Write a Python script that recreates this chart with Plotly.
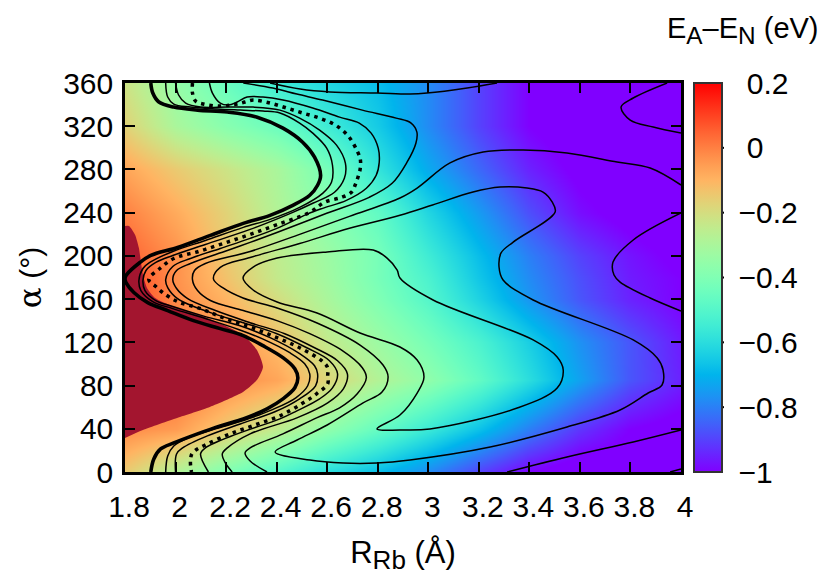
import math
import plotly.graph_objects as go

# ---- heat map values (eV) ----
r_grid = [1.8, 2.0, 2.2, 2.4, 2.6, 2.8, 3.0, 3.2, 3.4, 3.6, 3.8, 4.0]
alpha_grid = [0, 40, 85, 120, 160, 180, 200, 240, 280, 320, 360]
z_0   = [-0.15, -0.28, -0.40, -0.50, -0.60, -0.68, -0.78, -0.90, -1.00, -1.05, -1.05, -1.05]
z_40  = [-0.02, -0.05, -0.15, -0.25, -0.36, -0.46, -0.56, -0.67, -0.80, -0.92, -1.00, -1.03]
z_85  = [0.10, 0.05, -0.02, -0.07, -0.18, -0.28, -0.36, -0.47, -0.60, -0.74, -0.87, -0.95]
z_120 = [0.10, 0.02, -0.03, -0.12, -0.24, -0.33, -0.42, -0.52, -0.64, -0.77, -0.87, -0.96]
z_160 = [0.10, -0.02, -0.10, -0.20, -0.30, -0.40, -0.50, -0.63, -0.76, -0.87, -0.95, -1.00]
z_180 = [0.10, -0.03, -0.13, -0.24, -0.32, -0.42, -0.52, -0.66, -0.78, -0.88, -0.96, -1.00]
z_200 = [0.05, -0.03, -0.15, -0.25, -0.33, -0.42, -0.55, -0.68, -0.80, -0.90, -0.97, -1.02]
z_240 = [0.00, -0.08, -0.17, -0.28, -0.38, -0.47, -0.62, -0.75, -0.88, -0.98, -1.03, -1.05]
z_280 = [-0.07, -0.15, -0.22, -0.30, -0.42, -0.58, -0.72, -0.84, -0.95, -1.02, -1.05, -1.05]
z_320 = [-0.17, -0.30, -0.38, -0.45, -0.55, -0.65, -0.78, -0.90, -1.00, -1.05, -1.05, -1.05]
z_360 = [-0.22, -0.35, -0.45, -0.55, -0.62, -0.68, -0.78, -0.90, -1.00, -1.05, -1.05, -1.05]
z_rows = [z_0, z_40, z_85, z_120, z_160, z_180, z_200, z_240, z_280, z_320, z_360]

# ---- contour lines (R in Angstrom, alpha in degrees) ----
thick_r = [1.902,1.910,1.934,1.993,2.087,2.205,2.323,2.425,2.503,2.550,2.574,2.562,2.531,2.464,2.374,2.268,2.138,2.008,1.902,1.859,1.804,1.800,1.804,1.835,1.890,1.969,2.071,2.177,2.268,2.346,2.425,2.472,2.484,2.472,2.425,2.362,2.268,2.177,2.087,1.993,1.941,1.914,1.902]
thick_a = [360,350.7,342.4,337.7,334.9,333.1,328.4,318.2,305.2,291.3,274.6,265.4,256.1,246.8,237.5,230.1,219.0,207.8,200.4,193.9,181.9,178.5,175.4,166.1,156.8,149.4,140.1,132.7,126.2,116.9,105.8,95.6,87.2,77.9,67.7,58.5,49.2,42.7,35.3,26.9,21.3,12.1,0]
t1_r = [1.961,1.969,1.993,2.059,2.165,2.256,2.346,2.413,2.491,2.543,2.598,2.621,2.617,2.582,2.491,2.374,2.268,2.118,1.989,1.898,1.871,1.855,1.863,1.910,1.989,2.118,2.252,2.342,2.452,2.511,2.531,2.523,2.476,2.381,2.275,2.158,2.059,1.993,1.969,1.961]
t1_a = [360,347.0,340.5,337.7,335.9,334.9,334.0,332.2,322.9,313.6,299.7,283.9,268.1,257.9,244.9,233.8,226.4,214.3,204.1,193.9,188.3,177.2,167.9,157.7,151.2,142.0,131.7,123.4,110.4,100.2,90.9,79.8,68.7,57.5,48.2,39.9,32.5,24.1,14.8,0]
t2_r = [2.000,2.012,2.040,2.099,2.205,2.307,2.413,2.491,2.570,2.637,2.672,2.668,2.629,2.543,2.464,2.295,2.118,1.989,1.922,1.883,1.871,1.879,1.922,1.989,2.118,2.252,2.374,2.491,2.550,2.562,2.554,2.491,2.393,2.256,2.126,2.028,2.004,2.000]
t2_a = [360,348.9,341.4,337.7,337.7,337.7,334.9,327.5,316.4,302.5,285.8,271.8,258.9,248.7,240.3,224.5,210.6,200.4,193.9,186.5,177.2,167.9,158.7,153.1,143.8,135.5,124.3,109.5,98.3,90.9,79.8,67.7,55.7,44.5,33.4,22.3,16.7,0]
dot_r = [2.067,2.067,2.079,2.110,2.177,2.216,2.244,2.275,2.307,2.374,2.440,2.503,2.570,2.633,2.684,2.719,2.731,2.731,2.723,2.712,2.696,2.657,2.590,2.531,2.405,2.295,2.189,2.091,1.993,1.938,1.894,1.922,1.949,2.008,2.099,2.197,2.303,2.401,2.491,2.578,2.602,2.602,2.602,2.558,2.499,2.413,2.315,2.216,2.126,2.067,2.059,2.063]
dot_a = [360,350.7,343.3,340.5,338.6,339.6,340.5,342.4,344.2,341.4,336.8,332.2,327.5,321.0,310.8,296.9,289.5,281.1,273.7,266.3,258.9,254.2,249.6,240.3,229.2,219.9,211.5,204.1,197.6,188.3,178.1,171.6,166.1,157.7,151.2,142.0,133.6,124.3,115.0,103.0,96.5,89.1,81.6,72.4,63.1,52.0,43.6,35.3,26.0,17.6,10.2,0]
t3_r = [2.134,2.146,2.177,2.209,2.244,2.283,2.346,2.425,2.543,2.649,2.727,2.774,2.802,2.806,2.794,2.755,2.676,2.582,2.519,2.401,2.295,2.177,2.059,1.989,1.961,1.969,2.008,2.138,2.268,2.401,2.519,2.609,2.641,2.621,2.570,2.480,2.413,2.244,2.118,2.099,2.130]
t3_a = [360,350.7,341.4,339.6,342.4,347.0,347.0,344.2,336.8,328.4,322.9,313.6,299.7,286.7,274.6,262.6,251.4,244.0,238.4,225.5,216.2,206.9,197.6,190.2,178.1,170.7,160.5,147.5,138.2,128.0,115.0,103.0,90.9,77.9,67.7,56.6,49.2,35.3,22.3,16.7,0]
t4_r = [2.268,2.385,2.480,2.582,2.739,2.873,2.932,2.955,2.951,2.916,2.857,2.766,2.598,2.401,2.295,2.205,2.059,2.004,1.989,2.004,2.048,2.158,2.295,2.432,2.550,2.641,2.680,2.664,2.602,2.480,2.295,2.205,2.185,2.197,2.224]
t4_a = [360,355.3,349.8,344.2,334.9,327.5,322.9,314.5,304.3,286.7,267.2,254.2,239.4,221.7,212.5,205.0,193.0,186.5,178.1,169.8,160.5,149.4,138.2,128.0,115.0,103.0,90.9,77.0,64.0,50.1,35.3,22.3,16.7,8.4,0]
c4_r = [4.0,3.878,3.747,3.549,3.375,3.217,3.086,2.956,2.888,2.688,2.491,2.295,2.118,2.075,2.067,2.087,2.138,2.268,2.401,2.531,2.660,2.739,2.755,2.719,2.649,2.558,2.425,2.295,2.275,2.295,2.362]
c4_a = [265.6,281.3,286.9,295.2,298.0,296.1,286.0,262.8,253.6,236.6,219.9,204.1,193.0,186.5,178.1,167.9,158.7,149.4,140.1,128.0,112.3,96.5,87.2,72.4,59.4,50.1,35.3,22.3,17.6,10.2,0]
c5_r = [2.150,2.177,2.295,2.491,2.688,2.888,3.017,3.177,3.284,3.391,3.454,3.490,3.502,3.336,3.288,3.280,3.296,3.415,3.811,3.906,3.929,3.925,3.870,3.759,3.549,3.245,2.928,2.797,2.663,2.532,2.394,2.481,2.600,2.742,2.817,2.841,2.821,2.730,2.560,2.402,2.267,2.188,2.150]
c5_a = [178.6,189.3,198.5,211.5,225.5,237.6,247.1,259.1,263.7,262.8,259.1,249.9,240.6,212.8,202.7,189.7,177.7,159.2,122.2,105.5,94.4,80.5,73.1,57.4,41.6,23.1,11.1,8.3,8.3,11.1,18.5,29.6,43.5,63.9,74.0,87.9,99.0,117.5,137.9,151.8,161.0,170.3,178.6]
c6_r = [2.267,2.307,2.402,2.600,2.782,2.837,2.877,2.888,3.019,3.415,3.510,3.534,3.510,3.352,3.007,2.888,2.797,2.888,2.956,2.983,2.956,2.888,2.730,2.560,2.402,2.307,2.267]
c6_a = [179.5,189.7,198.0,203.6,205.4,198.0,186.9,179.5,159.2,122.2,106.4,94.4,77.7,59.2,39.8,38.9,39.8,52.7,73.1,87.9,103.6,115.7,128.6,147.1,157.3,168.4,179.5]
t5_r = [2.374,2.493,2.611,2.797,2.928,2.995,3.154,3.272]
t5_a = [360,354.4,351.7,350.7,349.8,350.7,355.4,360]
r1_r = [3.945,3.811,3.763,3.799,3.890,4.0]
r1_a = [360,346.1,337.8,325.7,319.3,313.7]
r2_r = [4.0,3.811,3.731,3.735,3.759,3.878,4.0]
r2_a = [239.7,214.7,194.3,182.3,175.8,161.0,149.0]
r3_r = [3.312,3.549,3.811,4.0]
r3_a = [0,13.9,27.8,38.9]
r4_r = [3.957,4.0]
r4_a = [0,2.8]

# dark-red region
red_r = [1.8,1.816,1.84,1.855,1.863,1.871,1.887,1.919,1.986,2.117,2.267,2.322,2.346,2.322,2.267,2.136,2.006,1.871,1.8]
red_a = [227.6,227.6,219.3,207.3,194.3,182.3,170.3,161.0,153.6,143.4,126.8,112.9,97.2,85.1,74.0,60.2,50.0,38.9,31.5]

x_ticks = [1.8, 2, 2.2, 2.4, 2.6, 2.8, 3, 3.2, 3.4, 3.6, 3.8, 4]
x_labels = ["1.8", "2", "2.2", "2.4", "2.6", "2.8", "3", "3.2", "3.4", "3.6", "3.8", "4"]
y_ticks = [0, 40, 80, 120, 160, 200, 240, 280, 320, 360]
cb_ticks = [0.2, 0, -0.2, -0.4, -0.6, -0.8, -1]
cb_labels = ["\u00a00.2", "\u00a00", "\u22120.2", "\u22120.4", "\u22120.6", "\u22120.8", "\u22121"]

FONT = "Liberation Sans"
FS = 30

def sub(s):
    return f'<sub><span style="font-size:120%">{s}</span></sub>'

def palette(n=32):
    out = []
    for i in range(n + 1):
        t = i / n
        r = min(1, abs(2 * t - 0.5))
        g = math.sin(math.pi * t)
        b = max(0, math.cos(math.pi * t / 2))
        out.append([t, f"rgb({r*255:.0f},{g*255:.0f},{b*255:.0f})"])
    return out

fig = go.Figure()
fig.add_trace(go.Heatmap(
    x=r_grid, y=alpha_grid, z=z_rows, zmin=-1, zmax=0.2, zsmooth="best",
    colorscale=palette(), hoverinfo="skip",
    colorbar=dict(
        x=1.0234, xanchor="left", xpad=0, y=0, yanchor="bottom", ypad=0,
        len=1, lenmode="fraction", thickness=28, thicknessmode="pixels",
        outlinecolor="#333333", outlinewidth=2,
        ticks="outside", ticklen=10, tickcolor="rgba(0,0,0,0)",
        tickvals=cb_ticks, ticktext=cb_labels,
        tickfont=dict(family=FONT, size=FS, color="black"),
    ),
))
fig.add_trace(go.Scatter(x=red_r, y=red_a, mode="lines", fill="toself",
                         fillcolor="#A3152F", line=dict(width=0, color="#A3152F", shape="spline", smoothing=0.6),
                         hoverinfo="skip", showlegend=False))

def add_line(r, a, width=1.5, dash="solid"):
    fig.add_trace(go.Scatter(x=r, y=a, mode="lines", hoverinfo="skip", showlegend=False,
                             line=dict(color="black", width=width, dash=dash, shape="spline", smoothing=1.0)))

for r, a in [(t1_r, t1_a), (t2_r, t2_a), (t3_r, t3_a), (t4_r, t4_a), (c4_r, c4_a), (c5_r, c5_a),
             (c6_r, c6_a), (t5_r, t5_a), (r1_r, r1_a), (r2_r, r2_a), (r3_r, r3_a), (r4_r, r4_a)]:
    add_line(r, a)
add_line(dot_r, dot_a, width=3.5, dash="3.5px,4.8px")
add_line(thick_r, thick_a, width=3.6)

axis_common = dict(
    showgrid=False, zeroline=False, showline=True, linecolor="black", linewidth=2.5,
    mirror="ticks", ticks="inside", ticklen=10, tickwidth=2.2, tickcolor="black",
    tickfont=dict(family=FONT, size=FS, color="black"),
)
fig.update_xaxes(range=[1.8, 4], tickvals=x_ticks, ticktext=x_labels, ticklabelshift=4,
                 ticklabelstandoff=6,
                 title=dict(text=f"R{sub('Rb')} (Å)", standoff=20, font=dict(family=FONT, size=31, color="black")),
                 **axis_common)
fig.update_yaxes(range=[0, 360], tickvals=y_ticks, ticklabelstandoff=3,
                 title=dict(text="<span style=\"font-family:'DejaVu Serif';font-size:31px\">α</span> (°)", standoff=13,
                            font=dict(family=FONT, size=30, color="black")),
                 **axis_common)

# colour-bar tick marks, on both edges of the bar
cb_left, cb_right = 569 / 556, 599 / 556
shapes = []
for v in cb_ticks[1:-1]:
    yp = (v + 1) / 1.2
    shapes.append(dict(type="line", xref="paper", yref="paper", x0=cb_left, x1=cb_left + 7 / 556, y0=yp, y1=yp,
                       line=dict(color="black", width=2)))
    shapes.append(dict(type="line", xref="paper", yref="paper", x0=cb_right - 7 / 556, x1=cb_right, y0=yp, y1=yp,
                       line=dict(color="black", width=2)))

fig.update_layout(
    width=830, height=581, autosize=False,
    margin=dict(l=125, r=149, t=83, b=109, pad=0),
    paper_bgcolor="white", plot_bgcolor="white",
    font=dict(family=FONT, size=FS, color="black"),
    showlegend=False, shapes=shapes,
    annotations=[dict(text=f"E{sub('A')}–E{sub('N')} (eV)", xref="paper", yref="paper",
                      x=(742.5 - 125) / 556, y=1 + 53 / 389, xanchor="center", yanchor="middle",
                      showarrow=False, font=dict(family=FONT, size=29, color="black"))],
)
fig.write_html("out.html", config={"displayModeBar": False}, post_script="document.body.style.margin='0';")
